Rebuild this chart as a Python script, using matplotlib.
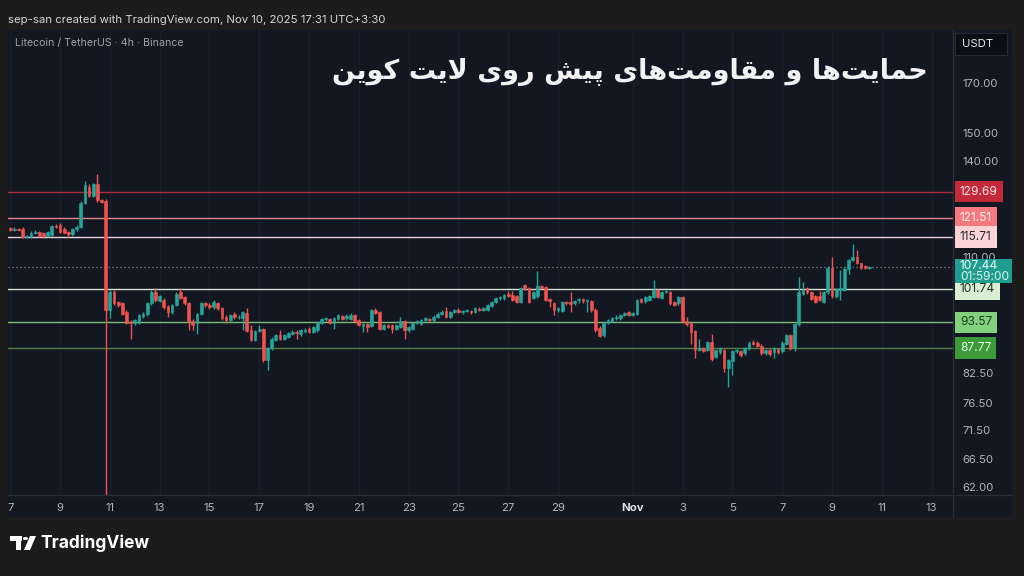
import matplotlib
matplotlib.use("Agg")
import matplotlib.pyplot as plt
import matplotlib.dates as mdates
from matplotlib.patches import Rectangle, Circle, Polygon
from matplotlib.transforms import blended_transform_factory
from matplotlib.ticker import NullLocator, FixedLocator, FixedFormatter
import numpy as np
import pandas as pd
from datetime import datetime

# ---------------- data (LTC/USDT 4h) ----------------
start = "2025-10-07 00:00"
opens = [118.3,117.9,118.2,118.2,115.8,115.9,116.8,117.1,116.8,116.0,116.3,118.9,119.3,118.2,117.3,116.6,118.0,118.6,126.1,131.2,
         128.2,132.1,126.9,126.6,96.4,101.0,98.5,98.1,96.0,93.6,93.4,93.5,95.0,95.5,98.1,101.0,98.8,98.9,97.4,96.0,
         97.7,100.8,99.7,98.1,93.8,93.4,95.5,98.1,97.7,97.1,98.1,96.9,94.7,94.1,95.6,94.7,94.5,95.8,91.7,89.6,
         91.6,92.0,85.1,87.7,89.6,90.6,89.8,90.2,90.8,91.4,90.8,91.5,92.1,91.4,91.7,93.4,94.3,94.3,93.4,94.3,
         95.1,94.5,94.3,95.3,94.0,92.7,93.2,92.7,96.4,96.0,92.1,92.9,92.9,92.1,92.5,93.8,91.7,92.1,93.4,93.2,
         94.1,94.3,94.0,94.9,95.6,96.2,94.9,96.0,96.4,96.0,96.2,96.3,96.0,96.8,96.5,96.5,97.4,98.5,99.3,99.3,
         100.5,100.2,99.8,98.4,102.6,102.0,99.4,99.8,102.4,102.2,99.2,98.1,96.4,96.2,98.5,98.4,98.1,98.9,99.2,98.6,
         98.6,96.6,92.3,90.6,93.4,93.9,94.5,94.5,95.3,96.0,95.3,95.6,99.2,98.6,98.9,99.7,101.4,99.4,100.9,100.9,
         98.5,98.1,99.7,93.9,93.4,91.6,87.3,87.7,87.3,89.1,85.8,86.8,87.3,83.4,84.9,87.0,87.0,86.6,87.7,89.1,
         88.9,88.3,86.6,87.3,86.8,87.5,87.0,88.7,90.6,87.7,93.1,100.5,102.0,100.9,99.8,99.8,98.5,100.8,107.1,99.8,
         101.4,101.4,106.9,109.3,110.2,108.4,107.7,107.2]
highs = [118.8,118.6,118.5,118.6,116.4,117.4,117.9,117.6,117.2,117.6,119.3,119.6,120.0,118.8,117.6,118.5,119.2,126.8,133.0,132.2,
         132.6,135.6,127.3,127.2,101.5,101.3,98.8,98.5,96.4,94.0,94.3,95.6,96.0,98.5,101.4,102.0,100.2,99.3,97.8,98.0,
         100.8,102.0,100.0,98.4,94.3,95.8,98.5,98.5,98.1,98.9,98.4,97.2,95.3,95.6,96.0,95.2,96.3,96.9,92.9,91.9,
         92.9,92.3,88.0,90.1,90.9,91.7,90.9,91.4,91.7,91.7,92.0,92.2,92.4,92.8,93.8,94.6,94.8,94.6,94.8,95.6,
         95.4,95.5,95.7,95.6,94.3,93.5,93.5,96.7,96.9,96.3,93.2,93.2,93.2,93.2,94.9,94.1,92.8,93.7,94.1,94.4,
         94.9,94.6,95.2,95.9,96.4,97.3,96.3,96.7,97.0,96.5,96.7,96.6,97.2,97.1,97.3,98.0,98.8,99.7,99.9,100.5,
         101.2,101.2,100.1,102.3,103.0,102.3,101.1,106.3,102.7,102.5,99.5,98.4,97.2,98.8,98.8,100.8,98.9,99.5,99.5,99.2,
         98.9,96.9,92.6,93.7,94.4,94.8,95.2,95.6,96.1,96.3,96.1,99.2,99.5,100.0,100.1,104.0,101.7,101.2,101.5,101.2,
         98.8,100.0,100.0,94.9,93.7,91.9,89.8,88.0,89.4,90.9,87.6,88.0,87.6,85.4,87.3,87.6,87.3,88.0,89.2,89.6,
         89.2,88.6,87.6,87.6,88.0,87.8,89.2,90.9,90.9,93.4,104.9,103.6,102.3,101.2,100.1,101.2,101.1,107.6,110.2,101.9,
         106.6,107.5,109.6,113.7,112.0,108.6,107.9,107.7]
lows = [117.6,117.6,117.5,115.5,115.4,115.6,116.5,115.8,115.6,115.8,116.0,118.3,117.0,116.8,115.9,116.0,117.6,118.3,125.8,127.8,
        127.9,126.5,125.9,45.0,94.5,97.8,97.3,95.3,93.2,89.8,93.0,93.2,94.5,95.0,97.8,98.5,98.4,96.8,94.9,95.6,
        97.4,99.2,97.8,91.7,91.7,90.9,95.2,97.3,96.8,96.8,96.6,94.2,93.4,93.8,94.4,94.3,91.7,91.3,89.3,89.3,
        91.3,84.8,83.0,87.4,89.3,89.6,89.5,90.0,90.6,89.8,90.5,91.2,91.1,91.2,91.4,93.1,93.9,93.1,92.1,94.0,
        94.0,94.2,94.0,93.5,92.6,91.4,91.4,92.4,95.5,91.8,91.8,92.2,91.1,91.8,92.2,89.8,91.4,91.8,93.1,92.9,
        93.8,93.7,93.7,94.6,95.3,94.6,94.6,95.7,95.7,95.6,95.9,95.6,95.7,96.2,96.2,96.2,97.1,98.2,99.0,99.0,
        99.6,98.6,98.2,98.1,101.4,98.2,99.1,99.5,101.7,98.6,97.3,95.3,96.1,95.9,97.8,96.0,97.8,98.1,98.1,96.0,
        96.1,91.4,90.1,90.3,93.1,93.6,94.1,94.1,95.0,95.0,95.0,95.3,98.1,98.3,98.6,99.4,99.4,99.1,100.6,97.8,
        97.4,97.8,93.5,92.8,88.6,85.5,87.0,86.8,87.0,85.0,85.5,86.5,82.7,79.7,82.0,86.7,85.9,86.3,87.4,88.4,
        88.0,86.3,86.3,86.1,85.6,86.5,86.7,88.4,87.4,87.0,92.8,100.2,100.5,98.9,98.2,98.7,98.2,100.5,99.5,99.5,
        98.9,101.1,105.5,109.0,108.1,106.9,106.9,106.8]
closes = [117.9,118.2,117.9,115.8,116.0,117.0,117.3,116.1,116.0,117.3,118.9,118.6,117.3,117.0,116.6,118.2,118.7,126.1,131.8,128.2,
          132.1,126.9,126.3,96.4,100.8,98.1,97.7,95.6,93.5,93.3,94.0,95.3,95.6,98.1,101.0,98.9,99.8,97.1,96.0,97.7,
          100.4,99.5,98.1,93.8,92.9,95.5,98.1,97.7,97.1,98.5,96.9,94.5,94.1,95.3,94.7,94.9,96.0,91.6,89.6,91.6,
          92.1,85.1,87.7,89.8,90.6,89.8,90.6,91.1,91.4,91.0,91.7,91.9,91.4,92.5,93.5,94.3,94.5,93.4,94.5,95.3,
          94.3,95.1,95.3,93.8,92.9,93.2,92.5,96.4,95.8,92.1,92.9,92.5,92.1,92.9,93.8,91.7,92.5,93.4,93.8,94.1,
          94.5,94.0,94.9,95.6,96.0,94.9,96.0,96.4,96.0,96.2,96.4,95.9,96.9,96.5,97.0,97.7,98.5,99.4,99.6,100.2,
          99.9,98.9,98.5,102.0,101.7,98.5,100.8,102.4,102.0,98.9,98.6,96.4,96.9,98.5,98.1,97.9,98.6,99.2,98.7,98.9,
          96.4,91.7,90.4,93.4,94.1,94.5,94.9,95.3,95.8,95.3,95.8,98.9,98.4,99.7,99.8,101.4,99.7,100.9,101.2,98.1,
          97.7,99.7,93.8,93.1,91.4,87.3,87.7,87.1,89.1,85.3,87.3,87.7,83.4,85.1,87.0,87.3,86.2,87.7,88.9,88.7,
          88.3,86.6,87.3,86.4,87.7,86.8,88.9,90.6,87.7,93.1,100.8,101.4,100.8,99.2,98.5,99.0,100.8,107.1,99.8,101.6,
          101.9,106.9,109.3,110.2,108.4,107.2,107.2,107.44]

levels = [129.69, 121.51, 115.71, 101.74, 93.57, 87.77]
level_labels = ["129.69", "121.51", "115.71", "101.74", "93.57", "87.77"]
last_price = 107.44
last_label = "107.44"
countdown = "01:59:00"
price_ticks = [62.0, 66.5, 71.5, 76.5, 82.5, 110.0, 118.0, 140.0, 150.0, 170.0]
date_ticks = ["2025-10-07", "2025-10-09", "2025-10-11", "2025-10-13", "2025-10-15", "2025-10-17", "2025-10-19",
              "2025-10-21", "2025-10-23", "2025-10-25", "2025-10-27", "2025-10-29", "2025-11-01", "2025-11-03",
              "2025-11-05", "2025-11-07", "2025-11-09", "2025-11-11", "2025-11-13"]
date_labels = ["7", "9", "11", "13", "15", "17", "19", "21", "23", "25", "27", "29", "Nov", "3", "5", "7", "9", "11", "13"]
title_fa = "حمایت\u200cها و مقاومت\u200cهای پیش روی لایت کوین"
header = "sep-san created with TradingView.com, Nov 10, 2025 17:31 UTC+3:30"
symbol = "Litecoin / TetherUS · 4h · Binance"

# ---------------- styles ----------------
W, H = 1024, 576
OUTER = "#1c1c1c"
PANEL = "#131722"
SEP = "#2a2e39"
UP = "#26a69a"
DOWN = "#ef5350"
AXTXT = "#b2b5be"
line_colors = ["#a8303f", "#e4828a", "#e9d3d6", "#d3e3d0", "#7bbd78", "#567f45"]
box_colors = ["#c52a3b", "#f47a80", "#fcd4d8", "#d8efd4", "#82d17e", "#3c9b39"]
box_text = ["#ffe6e8", "#fff0f0", "#2a2a2a", "#222a22", "#1c3a1c", "#e6f6e4"]

# ---------------- Arabic/Persian shaping (matplotlib has no shaper) ----------------
FORMS = {
    'ا': ('\uFE8D', '\uFE8E', None, None),
    'ح': ('\uFEA1', '\uFEA2', '\uFEA3', '\uFEA4'),
    'م': ('\uFEE1', '\uFEE2', '\uFEE3', '\uFEE4'),
    'ی': ('\uFBFC', '\uFBFD', '\uFBFE', '\uFBFF'),
    'ت': ('\uFE95', '\uFE96', '\uFE97', '\uFE98'),
    'ه': ('\uFEE9', '\uFEEA', '\uFEEB', '\uFEEC'),
    'و': ('\uFEED', '\uFEEE', None, None),
    'ق': ('\uFED5', '\uFED6', '\uFED7', '\uFED8'),
    'پ': ('\uFB56', '\uFB57', '\uFB58', '\uFB59'),
    'ش': ('\uFEB5', '\uFEB6', '\uFEB7', '\uFEB8'),
    'ر': ('\uFEAD', '\uFEAE', None, None),
    'ل': ('\uFEDD', '\uFEDE', '\uFEDF', '\uFEE0'),
    'ک': ('\uFB8E', '\uFB8F', '\uFB90', '\uFB91'),
    'ن': ('\uFEE5', '\uFEE6', '\uFEE7', '\uFEE8'),
}


def shape_rtl(text):
    chars = list(text)
    n = len(chars)
    out = []

    def dual(c):
        return c in FORMS and FORMS[c][2] is not None

    i = 0
    while i < n:
        c = chars[i]
        if c not in FORMS:
            if c != '\u200c':
                out.append(c)
            i += 1
            continue
        prev = chars[i - 1] if i > 0 else None
        jp = prev is not None and dual(prev)
        if c == 'ل' and i + 1 < n and chars[i + 1] == 'ا':
            out.append('\uFEFC' if jp else '\uFEFB')
            i += 2
            continue
        nxt = chars[i + 1] if i + 1 < n else None
        jn = dual(c) and nxt is not None and nxt in FORMS
        iso, fin, ini, med = FORMS[c]
        if jp and jn:
            out.append(med)
        elif jp:
            out.append(fin)
        elif jn:
            out.append(ini)
        else:
            out.append(iso)
        i += 1
    return ''.join(reversed(out))


# ---------------- figure ----------------
plt.rcParams['font.family'] = ['Inter', 'DejaVu Sans']
fig = plt.figure(figsize=(W / 100, H / 100), dpi=100, facecolor=OUTER)


def fx(px):
    return px / W


def fy(py):
    return 1 - py / H


# chart panel background (incl. axis strips), behind the axes
fig.patches.append(Rectangle((fx(8), fy(517)), fx(1012) - fx(8), fy(30) - fy(517),
                             transform=fig.transFigure, facecolor=PANEL, edgecolor='none', zorder=-10))

ax = fig.add_axes([fx(8), fy(495), fx(953) - fx(8), fy(30) - fy(495)])
ax.set_zorder(1)
ax.set_facecolor(PANEL)
for s in ax.spines.values():
    s.set_visible(False)

dates = pd.date_range(start, periods=len(opens), freq="4h")
x = mdates.date2num(dates.to_pydatetime())
o = np.array(opens); h = np.array(highs); l = np.array(lows); c = np.array(closes)
up = c >= o
cols = np.where(up, UP, DOWN)
bar_w = 4 / 24 * 0.66

ax.set_yscale('log')
ax.vlines(x, l, h, colors=cols, linewidth=1.0, zorder=3)
ax.bar(x, np.abs(c - o), bottom=np.minimum(o, c), width=bar_w, color=cols,
       edgecolor=cols, linewidth=0.4, zorder=4)

x0 = mdates.date2num(datetime(2025, 10, 7)) - 0.09
ax.set_xlim(x0, x0 + 37.95)
ax.set_ylim(60.8, 194.1)

# horizontal levels
for lv, lc in zip(levels, line_colors):
    ax.axhline(lv, color=lc, linewidth=1.0, zorder=2)
ax.axhline(last_price, color="#7f8890", linewidth=0.9, linestyle=(0, (1, 2.2)), zorder=2)

# grid
tick_x = mdates.date2num(pd.to_datetime(date_ticks).to_pydatetime())
ax.xaxis.set_major_locator(FixedLocator(tick_x))
ax.xaxis.set_major_formatter(FixedFormatter(date_labels))
ax.grid(axis='x', color="#1b1f2c", linewidth=1.0, zorder=0)
ax.tick_params(axis='x', length=0, pad=6, labelsize=8.2, labelcolor=AXTXT)
for lbl in ax.get_xticklabels():
    if lbl.get_text() == "Nov":
        lbl.set_color("#e0e3eb")
        lbl.set_fontweight("bold")

ax.yaxis.tick_right()
ax.yaxis.set_major_locator(FixedLocator(price_ticks))
ax.yaxis.set_major_formatter(FixedFormatter([f"{v:.2f}" for v in price_ticks]))
ax.yaxis.set_minor_locator(NullLocator())
ax.tick_params(axis='y', length=0, pad=7, labelsize=8.2, labelcolor=AXTXT)
for lbl in ax.get_yticklabels():
    lbl.set_horizontalalignment('left')

# separators
fig.add_artist(plt.Line2D([fx(953), fx(953)], [fy(30), fy(517)], color=SEP, linewidth=1.0, zorder=5))
fig.add_artist(plt.Line2D([fx(8), fx(1012)], [fy(495), fy(495)], color=SEP, linewidth=1.0, zorder=5))

# price labels on the scale
tr = blended_transform_factory(ax.transAxes, ax.transData)
xlab = (960 - 8) / 945
for lv, txt, bc, tc in zip(levels, level_labels, box_colors, box_text):
    ax.text(xlab, lv, txt, transform=tr, ha='left', va='center', fontsize=8.6, color=tc, zorder=12,
            clip_on=False,
            bbox=dict(boxstyle='square,pad=0.4', facecolor=bc, edgecolor='none'))

# last-price tag (position from the axis scale, in display pixels)
yd = ax.transData.transform((x[-1], last_price))[1]
fig.patches.append(Rectangle((fx(955), (yd - 16.5) / H), fx(1012) - fx(955), 24.5 / H,
                             transform=fig.transFigure, facecolor="#1f9e8f", edgecolor='none', zorder=6))
fig.text(fx(960), (yd + 0.5) / H, last_label, ha='left', va='center', fontsize=8.6, color="#eefcfa", zorder=7)
fig.text(fx(960), (yd - 10) / H, countdown, ha='left', va='center', fontsize=8.6, color="#d6f3ef", zorder=7)

# USDT box
fig.patches.append(Rectangle((fx(955), fy(55)), fx(1007) - fx(955), fy(33) - fy(55), transform=fig.transFigure,
                             facecolor="#0b0d13", edgecolor="#262a35", linewidth=0.8, zorder=5))
fig.text(fx(962), fy(44), "USDT", color="#e6e8ee", fontsize=8.2, ha='left', va='center', zorder=6)

# texts
fig.text(fx(8), fy(20), header, color="#d6d6d6", fontsize=8.2, ha='left', va='center', zorder=6)
fig.text(fx(15), fy(43), symbol, color="#9ea3ad", fontsize=7.6, ha='left', va='center', zorder=6)
fig.text(fx(928), fy(72), shape_rtl(title_fa), color="#f2f2f2", fontsize=19.5, fontweight='bold',
         family=['DejaVu Sans'], ha='right', va='center', zorder=6)

# TradingView watermark
fig.patches.append(Rectangle((fx(10), fy(541)), fx(22) - fx(10), fy(536) - fy(541), transform=fig.transFigure,
                             facecolor="white", edgecolor='none'))
fig.patches.append(Rectangle((fx(16), fy(550)), fx(21) - fx(16), fy(536) - fy(550), transform=fig.transFigure,
                             facecolor="white", edgecolor='none'))
fig.patches.append(Circle((fx(25.5), fy(538.5)), 2.6 / W, transform=fig.transFigure, facecolor="white",
                          edgecolor='none'))
fig.patches.append(Polygon([(fx(30), fy(536)), (fx(36), fy(536)), (fx(30), fy(550)), (fx(24), fy(550))],
                           closed=True, transform=fig.transFigure, facecolor="white", edgecolor='none'))
fig.text(fx(40), fy(543), "TradingView", color="white", fontsize=12.5, fontweight='bold', ha='left',
         va='center')

fig.savefig("out.png", dpi=100, facecolor=OUTER)
